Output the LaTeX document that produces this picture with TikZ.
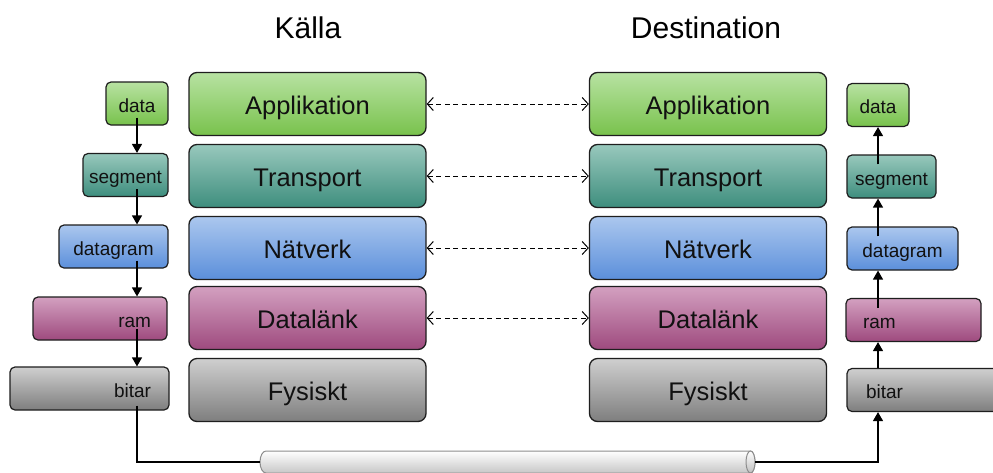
\documentclass[tikz,border=0pt]{standalone}
\usepackage{fontspec}
\setmainfont{Liberation Sans}
\usetikzlibrary{arrows.meta,calc}
\definecolor{txt}{HTML}{111111}
\definecolor{edge}{HTML}{1E1E1E}
\definecolor{gTop}{HTML}{B8E2A2}\definecolor{gBot}{HTML}{78C24C}
\definecolor{tTop}{HTML}{98C8BC}\definecolor{tBot}{HTML}{3E8E7E}
\definecolor{bTop}{HTML}{ABC7EE}\definecolor{bBot}{HTML}{5B8FDB}
\definecolor{mTop}{HTML}{D3A0C0}\definecolor{mBot}{HTML}{9E4A7E}
\definecolor{kTop}{HTML}{CFCFCF}\definecolor{kBot}{HTML}{7E7E7E}
\tikzset{
  layer/.style={draw=edge, line width=1.3pt, rounded corners=8pt, minimum width=237pt,
    minimum height=63pt, inner sep=0pt, text=txt, font=\fontsize{25.5}{30}\selectfont,
    text height=21.5pt, text depth=0pt},
  pdu/.style={draw=edge, line width=1.2pt, rounded corners=5pt, minimum height=43pt,
    inner ysep=0pt, text=txt, font=\fontsize{19}{22}\selectfont,
    text height=17pt, text depth=0pt},
  green/.style={top color=gTop, bottom color=gBot},
  teal/.style={top color=tTop, bottom color=tBot},
  blue/.style={top color=bTop, bottom color=bBot},
  mag/.style={top color=mTop, bottom color=mBot},
  grey/.style={top color=kTop, bottom color=kBot},
  peer/.style={dashed, dash pattern=on 5pt off 3.5pt, line width=1pt,
    {Straight Barb[length=6pt,width=13pt]}-{Straight Barb[length=6pt,width=13pt]}},
  flow/.style={line width=1.3pt, -{Triangle[length=9pt,width=10pt]}},
  wire/.style={line width=1.1pt},
  title/.style={font=\fontsize{30}{36}\selectfont, text=black}
}
\begin{document}
\begin{tikzpicture}[x=1pt,y=-1pt]
\clip (0,0) rectangle (993,472);
\fill[white] (0,0) rectangle (993,472);

\node[title] (tsrc) at (308,28) {Källa};
\node[title] (tdst) at (706,28) {Destination};

% source stack
\node[layer,green] (sA) at (307.5,104) {Applikation};
\node[layer,teal]  (sT) at (307.5,176) {Transport};
\node[layer,blue]  (sN) at (307.5,248) {Nätverk};
\node[layer,mag]   (sD) at (307.5,318) {Datalänk};
\node[layer,grey]  (sF) at (307.5,390) {Fysiskt};
% destination stack
\node[layer,green] (dA) at (708,104) {Applikation};
\node[layer,teal]  (dT) at (708,176) {Transport};
\node[layer,blue]  (dN) at (708,248) {Nätverk};
\node[layer,mag]   (dD) at (708,318) {Datalänk};
\node[layer,grey]  (dF) at (708,390) {Fysiskt};

\draw[peer] (sA) -- (dA);
\draw[peer] (sT) -- (dT);
\draw[peer] (sN) -- (dN);
\draw[peer] (sD) -- (dD);

% left PDUs
\node[pdu,green,minimum width=62pt,inner xsep=0pt] (ld) at (137,103.5) {data};
\node[pdu,teal,minimum width=85pt,inner xsep=0pt] (ls) at (125.5,175) {segment};
\node[pdu,blue,minimum width=109pt,inner xsep=0pt] (lg) at (113.5,246.5) {datagram};
\node[pdu,mag,text width=102pt,align=right,inner xsep=16pt] (lr) at (100,318.5) {ram};
\node[pdu,grey,text width=123pt,align=right,inner xsep=18pt] (lb) at (89.5,388.5) {bitar};

% right PDUs
\node[pdu,green,minimum width=62pt,inner xsep=0pt] (rd) at (878,105) {data};
\node[pdu,teal,minimum width=89pt,inner xsep=0pt] (rs) at (891.5,176.5) {segment};
\node[pdu,blue,minimum width=111pt,inner xsep=0pt] (rg) at (902.5,248.5) {datagram};
\node[pdu,mag,text width=101pt,align=left,inner xsep=17pt] (rr) at (913.5,320) {ram};
\node[pdu,grey,text width=142pt,align=left,inner xsep=19pt] (rb) at (937,390) {bitar};

% left arrows (down)
\coordinate (lx) at (137,0);
\draw[flow] ([yshift=8pt]ld.south) -- (ls.north -| ld.south);
\draw[flow] ($(ls.south -| lx)+(0,-8)$) -- (lg.north -| lx);
\draw[flow] ($(lg.south -| lx)+(0,-8)$) -- (lr.north -| lx);
\draw[flow] ($(lr.south -| lx)+(0,-12)$) -- (lb.north -| lx);

% right arrows (up)
\coordinate (rx) at (878,0);
\draw[flow] ($(rs.north -| rx)+(0,10)$) -- (rd.south);
\draw[flow] ($(rg.north -| rx)+(0,10)$) -- (rs.south -| rx);
\draw[flow] ($(rr.north -| rx)+(0,10)$) -- (rg.south -| rx);
\draw[flow] (rb.north -| rx) -- (rr.south -| rx);

% physical medium (cylinder)
\coordinate (cl) at (260,462);
\coordinate (cr) at (755,462);
\shade[top color=white, bottom color=black!22, draw=black!45, line width=1pt]
  (750.5,451) -- (266,451) arc[start angle=90,end angle=270,x radius=6pt,y radius=11pt]
  -- (750.5,473) arc[start angle=270,end angle=450,x radius=4.5pt,y radius=11pt] -- cycle;
\shade[top color=white, bottom color=black!25, draw=black!45, line width=1pt]
  (750.5,462) ellipse[x radius=4.5pt,y radius=11pt];

\draw[wire] ($(lb.south -| lx)+(0,-5)$) |- (cl);
\draw[flow] (cr) -| (rb.south -| rx);
\end{tikzpicture}
\end{document}
